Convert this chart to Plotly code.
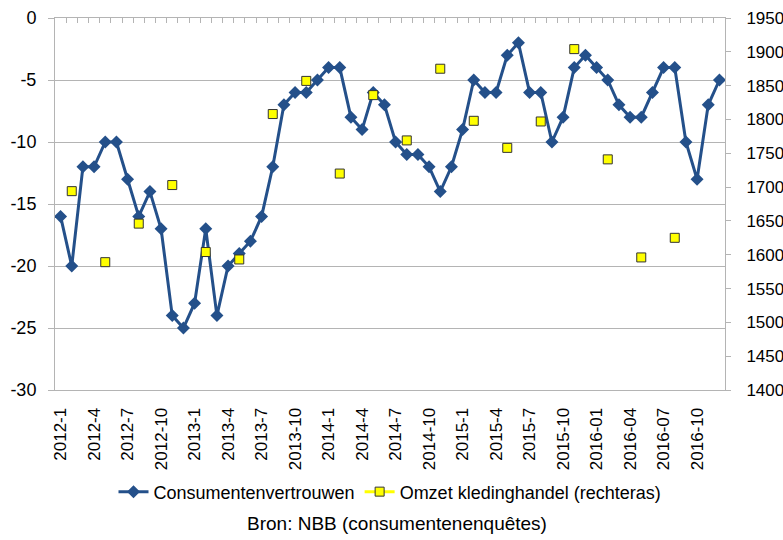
import plotly.graph_objects as go

# Monthly categories, 2012-1 .. 2016-12 (2016 uses zero-padded months)
months = (
    ["2012-1", "2012-2", "2012-3", "2012-4", "2012-5", "2012-6",
     "2012-7", "2012-8", "2012-9", "2012-10", "2012-11", "2012-12"]
    + ["2013-1", "2013-2", "2013-3", "2013-4", "2013-5", "2013-6",
       "2013-7", "2013-8", "2013-9", "2013-10", "2013-11", "2013-12"]
    + ["2014-1", "2014-2", "2014-3", "2014-4", "2014-5", "2014-6",
       "2014-7", "2014-8", "2014-9", "2014-10", "2014-11", "2014-12"]
    + ["2015-1", "2015-2", "2015-3", "2015-4", "2015-5", "2015-6",
       "2015-7", "2015-8", "2015-9", "2015-10", "2015-11", "2015-12"]
    + ["2016-01", "2016-02", "2016-03", "2016-04", "2016-05", "2016-06",
       "2016-07", "2016-08", "2016-09", "2016-10", "2016-11", "2016-12"]
)

# Consumer confidence (left axis)
consumentenvertrouwen = [
    -16, -20, -12, -12, -10, -10, -13, -16, -14, -17, -24, -25,
    -23, -17, -24, -20, -19, -18, -16, -12, -7, -6, -6, -5,
    -4, -4, -8, -9, -6, -7, -10, -11, -11, -12, -14, -12,
    -9, -5, -6, -6, -3, -2, -6, -6, -10, -8, -4, -3,
    -4, -5, -7, -8, -8, -6, -4, -4, -10, -13, -7, -5,
]

# Clothing retail turnover, quarterly, plotted at the middle month (right axis)
omzet_months = [
    "2012-2", "2012-5", "2012-8", "2012-11",
    "2013-2", "2013-5", "2013-8", "2013-11",
    "2014-2", "2014-5", "2014-8", "2014-11",
    "2015-2", "2015-5", "2015-8", "2015-11",
    "2016-02", "2016-05", "2016-08",
]
omzet_values = [
    1694, 1589, 1646, 1703,
    1604, 1593, 1808, 1857,
    1720, 1836, 1769, 1875,
    1798, 1758, 1797, 1904,
    1741, 1596, 1625,
]

tick_labels = [
    "2012-1", "2012-4", "2012-7", "2012-10",
    "2013-1", "2013-4", "2013-7", "2013-10",
    "2014-1", "2014-4", "2014-7", "2014-10",
    "2015-1", "2015-4", "2015-7", "2015-10",
    "2016-01", "2016-04", "2016-07", "2016-10",
]

left_ticks = [-30, -25, -20, -15, -10, -5, 0]
left_tick_text = ["-30", "-25", "-20", "-15", "-10", "-5", "0"]

# Monthly series with gaps so the turnover points stay unconnected
omzet_lookup = dict(zip(omzet_months, omzet_values))
omzet_monthly = [omzet_lookup.get(m) for m in months]

BLUE = "#24508A"
GRID = "#B4B4B4"
FONT = "Liberation Sans, Arial, sans-serif"
FS = 17

fig = go.Figure()

fig.add_trace(go.Scatter(
    x=months, y=consumentenvertrouwen,
    name="Consumentenvertrouwen",
    mode="lines+markers",
    line=dict(color=BLUE, width=3),
    marker=dict(symbol="diamond", size=10, color=BLUE),
    xaxis="x", yaxis="y",
))

fig.add_trace(go.Scatter(
    x=months, y=omzet_monthly,
    name="Omzet kledinghandel (rechteras)",
    mode="lines+markers",
    connectgaps=False,
    line=dict(color="#FFFF00", width=3),
    marker=dict(symbol="square", size=9, color="#FFFF00",
                line=dict(color="#333333", width=1)),
    xaxis="x", yaxis="y2",
))

# Invisible carrier for the top axis with monthly tick marks
fig.add_trace(go.Scatter(
    x=[0], y=[None], xaxis="x2", yaxis="y",
    showlegend=False, hoverinfo="skip", mode="markers",
))

fig.update_layout(
    width=783, height=540,
    margin=dict(l=55, r=58, t=18, b=150, autoexpand=False),
    paper_bgcolor="white", plot_bgcolor="white",
    font=dict(family=FONT, size=FS, color="#000000"),
    showlegend=True,
    legend=dict(
        orientation="h", x=0.50, y=-0.274,
        xanchor="center", yanchor="middle",
        font=dict(size=18), itemwidth=30,
        bgcolor="rgba(0,0,0,0)",
    ),
    xaxis=dict(
        type="category",
        categoryorder="array", categoryarray=months,
        range=[-0.5, len(months) - 0.5],
        tickmode="array", tickvals=tick_labels, ticktext=tick_labels,
        tickangle=-90, ticks="", ticklabelstandoff=10,
        showgrid=False, showline=True, linecolor=GRID, linewidth=1,
        zeroline=False, tickfont=dict(size=FS),
    ),
    xaxis2=dict(
        overlaying="x", side="top", anchor="y",
        range=[-0.5, len(months) - 0.5],
        tickmode="linear", tick0=-0.5, dtick=1,
        ticks="inside", ticklen=5, tickcolor=GRID, tickwidth=1,
        showticklabels=False, showgrid=False,
        showline=True, linecolor=GRID, linewidth=1, zeroline=False,
    ),
    yaxis=dict(
        range=[-30, 0],
        tickmode="array", tickvals=left_ticks, ticktext=left_tick_text,
        showgrid=True, gridcolor=GRID, gridwidth=1,
        showline=True, linecolor=GRID, linewidth=1,
        ticks="outside", ticklen=6, tickcolor=GRID,
        ticklabelstandoff=8, zeroline=False,
        tickfont=dict(size=18),
    ),
    yaxis2=dict(
        overlaying="y", side="right", anchor="x",
        range=[1400, 1950], dtick=50, tick0=1400,
        showgrid=False,
        showline=True, linecolor=GRID, linewidth=1,
        ticks="outside", ticklen=5, tickcolor=GRID,
        ticklabelstandoff=12, zeroline=False,
        tickfont=dict(size=FS),
    ),
    annotations=[dict(
        text="Bron: NBB (consumentenenquêtes)",
        xref="paper", yref="paper", x=0.51, y=-0.36,
        xanchor="center", yanchor="middle", showarrow=False,
        font=dict(size=19),
    )],
)

fig.write_html("out.html")
